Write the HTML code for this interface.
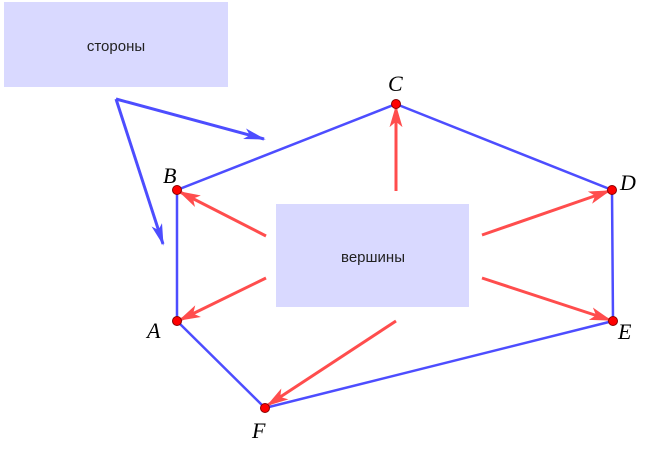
<!DOCTYPE html>
<html><head><meta charset="utf-8"><style>
html,body{margin:0;padding:0;background:#fff;width:647px;height:449px;overflow:hidden}
</style></head><body>
<svg width="647" height="449" xmlns="http://www.w3.org/2000/svg">
<defs>
<marker id="hb" viewBox="0 0 12 8" refX="11" refY="4" markerWidth="22" markerHeight="11" markerUnits="userSpaceOnUse" orient="auto" preserveAspectRatio="none">
<path d="M0,0 L12,4 L0,8 L3,4 Z" fill="#4d4dff"/></marker>
<marker id="hr" viewBox="0 0 12 8" refX="11" refY="4" markerWidth="22" markerHeight="13" markerUnits="userSpaceOnUse" orient="auto" preserveAspectRatio="none">
<path d="M0,0 L12,4 L0,8 L3,4 Z" fill="#ff4d4d"/></marker>
</defs>
<rect x="4" y="2" width="224" height="85" fill="#d9d9ff"/>
<text x="116" y="51" font-family="Liberation Sans, sans-serif" font-size="15" text-anchor="middle" fill="#222">стороны</text>
<rect x="276" y="204" width="193" height="103" fill="#d9d9ff"/>
<text x="373" y="262" font-family="Liberation Sans, sans-serif" font-size="15" text-anchor="middle" fill="#222">вершины</text>
<polygon points="396,104 612,190 613,321 265,408 177,321 177,190" fill="none" stroke="#4d4dff" stroke-width="2.5"/>
<g stroke="#4d4dff" stroke-width="3" fill="none">
<line x1="116" y1="99" x2="264" y2="139" marker-end="url(#hb)"/>
<line x1="116" y1="99" x2="163" y2="244" marker-end="url(#hb)"/>
</g>
<g stroke="#ff4d4d" stroke-width="3" fill="none">
<line x1="396" y1="191" x2="396" y2="107" marker-end="url(#hr)"/>
<line x1="266" y1="236" x2="180" y2="192" marker-end="url(#hr)"/>
<line x1="266" y1="278" x2="180" y2="320" marker-end="url(#hr)"/>
<line x1="396" y1="321" x2="268" y2="405" marker-end="url(#hr)"/>
<line x1="482" y1="235" x2="609" y2="191" marker-end="url(#hr)"/>
<line x1="482" y1="278" x2="610" y2="320" marker-end="url(#hr)"/>
</g>
<g fill="#ff0000" stroke="#800" stroke-width="1">
<circle cx="396" cy="104" r="4.5"/><circle cx="612" cy="190" r="4.5"/><circle cx="613" cy="321" r="4.5"/>
<circle cx="265" cy="408" r="4.5"/><circle cx="177" cy="321" r="4.5"/><circle cx="177" cy="190" r="4.5"/>
</g>
<g font-family="Liberation Serif, serif" font-style="italic" font-size="22" fill="#000">
<text x="388" y="91">C</text><text x="163" y="183">B</text><text x="620" y="190">D</text>
<text x="147" y="338">A</text><text x="618" y="339">E</text><text x="252" y="438">F</text>
</g>
</svg>
</body></html>
